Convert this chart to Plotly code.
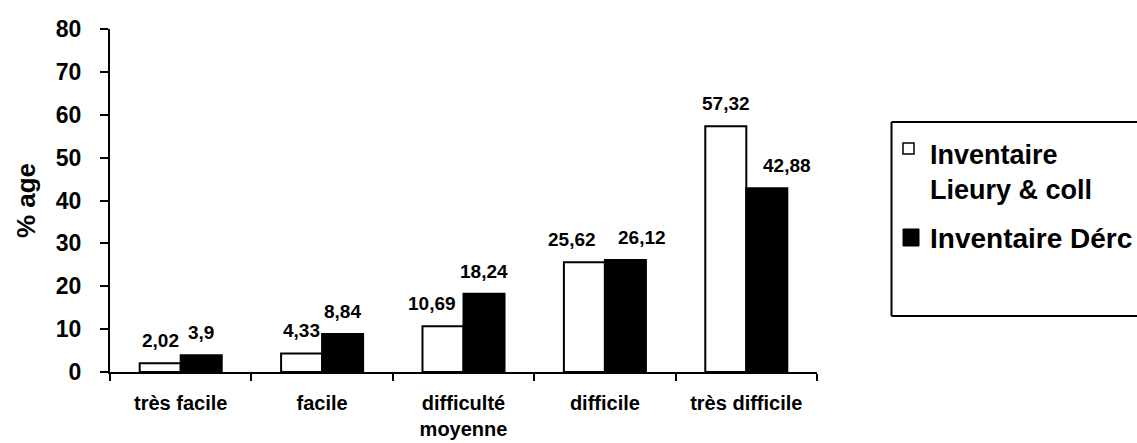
import plotly.graph_objects as go

categories = ["très facile", "facile", "difficulté<br>moyenne", "difficile", "très difficile"]
series_names = ["Inventaire<br>Lieury & coll", "Inventaire Dérc"]
lieury = [2.02, 4.33, 10.69, 25.62, 57.32]
deroc = [3.9, 8.84, 18.24, 26.12, 42.88]
y_ticks = [0, 10, 20, 30, 40, 50, 60, 70, 80]

# label pixel offsets (layout only)
lieury_dx = [0, 0, -11, -12, 0]
deroc_dx = [0, 0, 0, 17, 20]

FONT = "Liberation Sans"
L, R, T, B = 110, 320, 29, 71
W, H = 1137, 443
PW = W - L - R
PH = H - T - B

fig = go.Figure()
fig.add_trace(go.Bar(x=categories, y=lieury, name=series_names[0],
                     marker=dict(color="white", line=dict(color="black", width=2)),
                     showlegend=False))
fig.add_trace(go.Bar(x=categories, y=deroc, name=series_names[1],
                     marker=dict(color="black", line=dict(color="black", width=2)),
                     showlegend=False))

def fmt(v):
    return ("%g" % v).replace(".", ",")

annotations = []
for i, c in enumerate(categories):
    for vals, base_dx, dxs in ((lieury, -20.5, lieury_dx), (deroc, 20.5, deroc_dx)):
        annotations.append(dict(x=c, y=vals[i], xref="x", yref="y", text=fmt(vals[i]),
                                showarrow=False, xanchor="center", yanchor="bottom",
                                xshift=base_dx + dxs[i], yshift=10,
                                font=dict(family=FONT, size=19, color="black", weight="bold")))

def px(xp):
    return (xp - L) / PW

def py(yp):
    return (H - B - yp) / PH

box_l, box_r, box_t, box_b = px(891.5), px(1145), py(122), py(316)
shapes = [
    dict(type="line", xref="paper", yref="paper", x0=box_l, x1=box_r, y0=box_t, y1=box_t,
         line=dict(color="black", width=2)),
    dict(type="line", xref="paper", yref="paper", x0=box_l, x1=box_r, y0=box_b, y1=box_b,
         line=dict(color="black", width=2)),
    dict(type="line", xref="paper", yref="paper", x0=box_l, x1=box_l, y0=box_b, y1=box_t,
         line=dict(color="black", width=2)),
    dict(type="rect", xref="paper", yref="paper", x0=px(903), x1=px(914), y0=py(154), y1=py(143),
         line=dict(color="black", width=1.5), fillcolor="white"),
    dict(type="rect", xref="paper", yref="paper", x0=px(903), x1=px(919), y0=py(246), y1=py(229),
         line=dict(color="black", width=1), fillcolor="black"),
]
annotations.append(dict(xref="paper", yref="paper", x=px(928), y=py(172), text=series_names[0],
                        showarrow=False, xanchor="left", yanchor="middle", align="left",
                        font=dict(family=FONT, size=27, color="black", weight="bold")))
annotations.append(dict(xref="paper", yref="paper", x=px(928), y=py(238), text=series_names[1],
                        showarrow=False, xanchor="left", yanchor="middle", align="left",
                        font=dict(family=FONT, size=28, color="black", weight="bold")))

fig.update_layout(
    width=W, height=H,
    margin=dict(l=L, r=R, t=T, b=B, autoexpand=False),
    paper_bgcolor="white", plot_bgcolor="white",
    barmode="group", bargap=0.42, bargroupgap=0,
    showlegend=False,
    font=dict(family=FONT, color="black"),
    annotations=annotations, shapes=shapes,
    xaxis=dict(showline=True, linecolor="black", linewidth=2, ticks="outside", ticklen=7,
               tickwidth=2, tickcolor="black", tickson="boundaries", showgrid=False,
               ticklabelstandoff=12,
               tickfont=dict(family=FONT, size=20, color="black", weight="bold")),
    yaxis=dict(range=[0, 80], tickvals=y_ticks, showline=True, linecolor="black", linewidth=2,
               ticks="outside", ticklen=8, tickwidth=2, tickcolor="black", showgrid=False,
               zeroline=False, ticklabelstandoff=14,
               tickfont=dict(family=FONT, size=23, color="black", weight="bold"),
               title=dict(text="% age", standoff=13,
                          font=dict(family=FONT, size=26, color="black", weight="bold"))),
)

fig.write_html("out.html", config={"displayModeBar": False},
               post_script="document.body.style.margin='0';document.body.style.overflow='hidden';")
